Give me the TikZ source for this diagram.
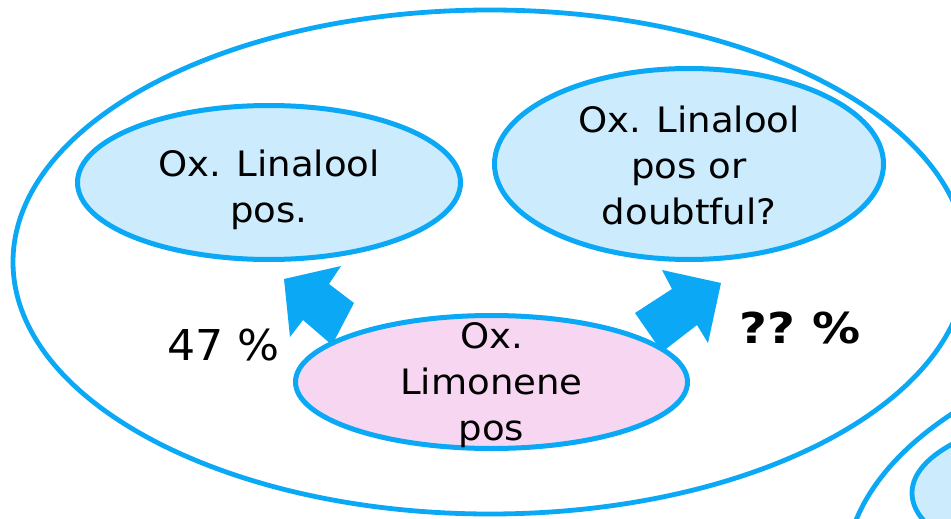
\documentclass[tikz,border=0pt]{standalone}
\usepackage{fontspec}
\setmainfont{DejaVu Sans}
\newfontfamily\labfont[FakeStretch=1.06]{DejaVu Sans}
\newfontfamily\pctfont[FakeStretch=1.04]{DejaVu Sans}
\newfontfamily\qfont[FakeStretch=1.13]{DejaVu Sans Bold}
\usetikzlibrary{shapes.geometric}
\definecolor{rim}{RGB}{10,168,245}
\definecolor{skyfill}{RGB}{204,235,252}
\definecolor{pinkfill}{RGB}{247,214,242}
\begin{document}
\begin{tikzpicture}[x=1pt,y=-1pt,
  ring/.style={draw=rim,line width=4.8pt},
  bubble/.style={ellipse,draw=rim,line width=5pt,inner sep=0pt},
  lab/.style={align=center,inner sep=0pt,font=\labfont\fontsize{35}{46}\selectfont},
  pct/.style={inner sep=0pt,anchor=base west,font=\pctfont\fontsize{42.5}{50}\selectfont},
  fatarrow/.style={fill=rim}]
\path[use as bounding box] (0,0) rectangle (951,519);
\fill[white] (0,0) rectangle (951,519);

% outer groups
\draw[ring] (490,262) ellipse [x radius=477, y radius=252];
\draw[ring] (1320,575) ellipse [x radius=475, y radius=255];
\draw[ring,fill=skyfill] (1105,493) ellipse [x radius=193, y radius=80];

% target bubbles
\node[bubble,fill=skyfill,minimum width=383pt,minimum height=154pt] (lina) at (269,182.5) {};
\node[bubble,fill=skyfill,minimum width=389pt,minimum height=191pt] (linq) at (689,164) {};

% block arrows from the limonene bubble
\fill[fatarrow] (284,279) -- (341,266) -- (329,284) -- (354,303) -- (332,345) -- (303,320) -- (290,337) -- cycle;
\fill[fatarrow] (721,283) -- (662,270) -- (672,289) -- (635,313) -- (662,352) -- (697,325) -- (708,343) -- cycle;

% source bubble
\node[bubble,fill=pinkfill,minimum width=392pt,minimum height=133pt] (limo) at (491.5,382) {};

% texts
\node[lab] (linaT) at (269,190) {Ox. Linalool\\pos.};
\node[lab] (linqT) at (689,165) {Ox. Linalool\\pos or\\doubtful?};
\node[lab] (limoT) at (491.5,385) {Ox.\\Limonene\\pos};

\node[pct] (share) at (167,360) {47 \%};
\node[pct,font=\qfont\fontsize{42.5}{50}\selectfont] (unknown) at (739,343) {??\hspace{-5pt} \%};
\end{tikzpicture}
\end{document}
